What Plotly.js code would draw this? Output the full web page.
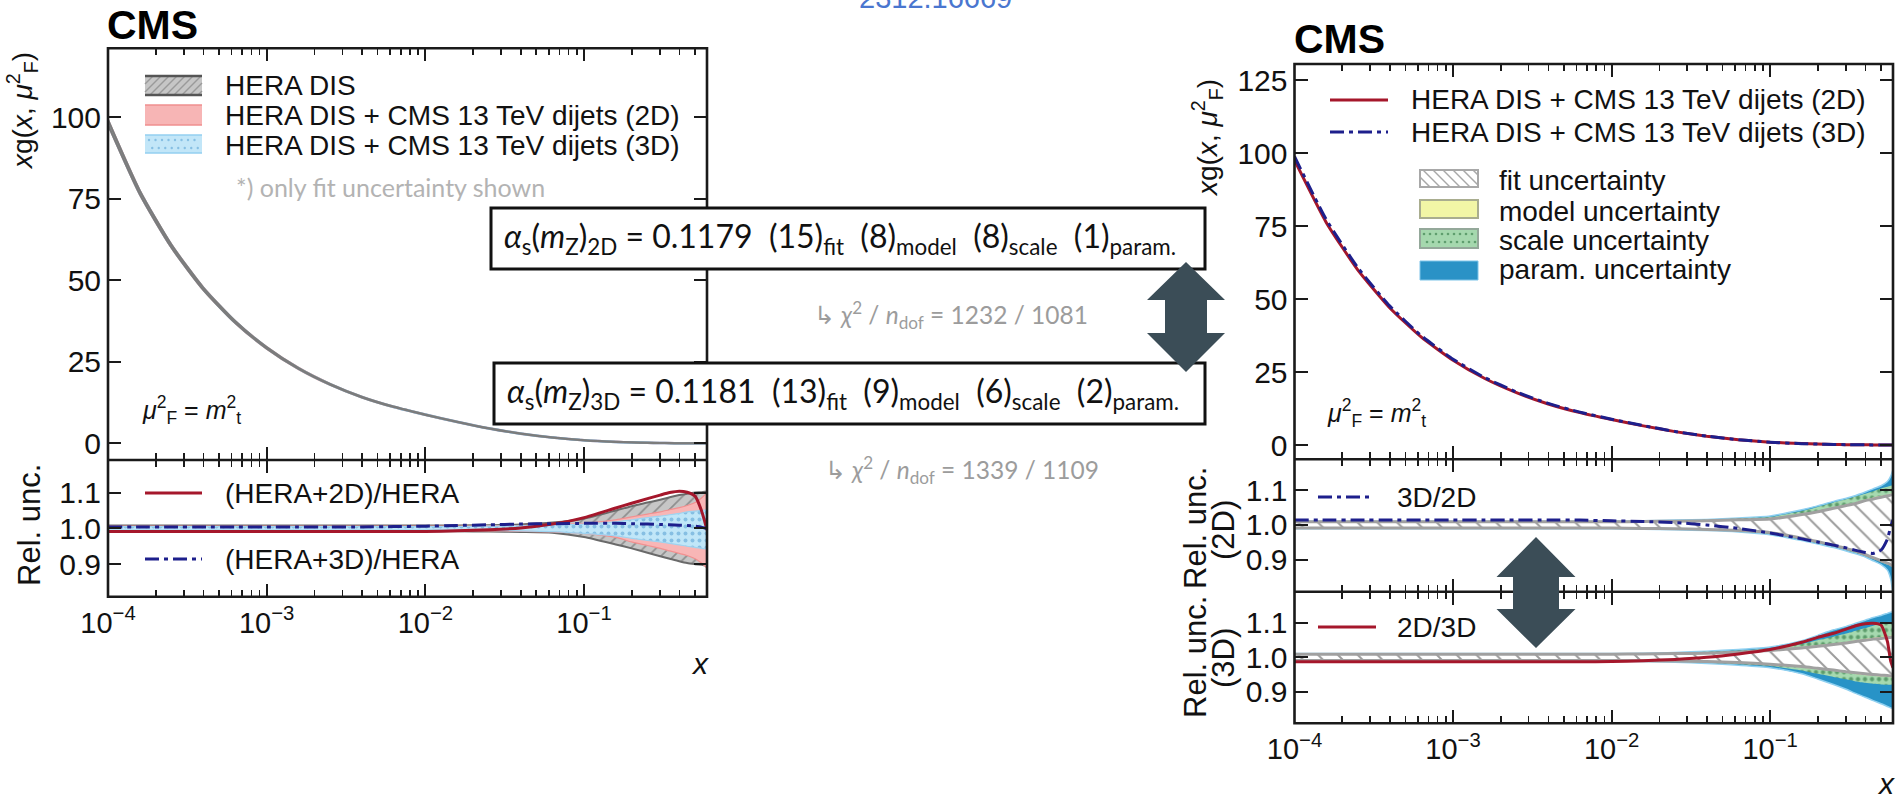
<!DOCTYPE html>
<html><head><meta charset="utf-8">
<script src="https://cdn.plot.ly/plotly-3.0.1.min.js"></script>
<style>html,body{margin:0;padding:0;background:#fff;overflow:hidden}#chart{width:1897px;height:799px}</style>
</head><body><div id="chart"></div>
<script>
// ---------------- data ----------------
const X = [1e-4, 1.585e-4, 2.512e-4, 3.981e-4, 6.31e-4, 1e-3, 1.585e-3, 2.512e-3, 3.981e-3, 6.31e-3,
  0.01, 0.01585, 0.02512, 0.03981, 0.0631, 0.1, 0.1585, 0.1995, 0.2512, 0.302, 0.3467, 0.3981, 0.4467, 0.5012, 0.5495, 0.5754, 0.5957];
// x g(x, muF^2), HERA DIS central
const XG = [98.5, 77, 60.5, 47.5, 37.3, 29.3, 23.0, 18.1, 14.2, 11.2, 8.8, 6.6, 4.6, 3.0, 1.8, 0.95, 0.45, 0.3, 0.18, 0.11, 0.075, 0.05, 0.035, 0.022, 0.015, 0.012, 0.01];
// left ratio panel: fit-uncertainty bands (relative) and ratios
const HERA_HI = [1.008,1.008,1.008,1.008,1.008,1.008,1.008,1.008,1.008,1.008,1.008,1.008,1.009,1.011,1.016,1.027,1.05,1.062,1.072,1.08,1.087,1.093,1.097,1.1,1.101,1.102,1.102];
const HERA_LO = [0.992,0.992,0.992,0.992,0.992,0.992,0.992,0.992,0.992,0.992,0.992,0.992,0.991,0.99,0.988,0.976,0.955,0.944,0.932,0.922,0.915,0.908,0.903,0.9,0.898,0.897,0.897];
const B2D_HI = [1.006,1.006,1.006,1.006,1.006,1.006,1.006,1.006,1.006,1.006,1.006,1.006,1.007,1.008,1.01,1.014,1.024,1.032,1.04,1.046,1.052,1.058,1.064,1.072,1.085,1.093,1.1];
const B2D_LO = [0.994,0.994,0.994,0.994,0.994,0.994,0.994,0.994,0.994,0.994,0.994,0.994,0.993,0.992,0.99,0.986,0.975,0.962,0.952,0.944,0.937,0.93,0.924,0.915,0.903,0.895,0.888];
const B3D_HI = [1.005,1.005,1.005,1.005,1.005,1.005,1.005,1.005,1.005,1.005,1.005,1.005,1.006,1.007,1.009,1.012,1.018,1.024,1.03,1.034,1.038,1.042,1.046,1.048,1.05,1.051,1.052];
const B3D_LO = [0.995,0.995,0.995,0.995,0.995,0.995,0.995,0.995,0.995,0.995,0.995,0.995,0.994,0.993,0.991,0.986,0.979,0.972,0.966,0.962,0.958,0.954,0.95,0.947,0.944,0.943,0.942];
const R_2D_HERA = [0.991,0.991,0.991,0.991,0.991,0.991,0.991,0.991,0.991,0.991,0.991,0.993,0.996,1.001,1.012,1.03,1.057,1.07,1.083,1.093,1.1,1.104,1.101,1.09,1.05,1.02,0.995];
const R_3D_HERA = [1.004,1.004,1.004,1.004,1.004,1.004,1.004,1.004,1.004,1.005,1.006,1.008,1.01,1.012,1.013,1.014,1.014,1.013,1.012,1.011,1.01,1.009,1.008,1.006,1.003,1.001,1.0];
// right, 2D fit: uncertainty components (relative)
const FIT2_HI = [1.009,1.009,1.009,1.009,1.009,1.009,1.009,1.009,1.009,1.009,1.009,1.01,1.011,1.012,1.015,1.017,1.03,1.038,1.048,1.056,1.062,1.07,1.075,1.08,1.084,1.086,1.088];
const FIT2_LO = [0.991,0.991,0.991,0.991,0.991,0.991,0.991,0.991,0.991,0.991,0.991,0.99,0.989,0.987,0.984,0.978,0.962,0.952,0.942,0.932,0.925,0.915,0.906,0.897,0.89,0.886,0.882];
const MOD2_HI = [1.01,1.01,1.01,1.01,1.01,1.01,1.01,1.01,1.01,1.01,1.01,1.011,1.012,1.013,1.016,1.019,1.032,1.04,1.05,1.059,1.065,1.073,1.079,1.084,1.088,1.09,1.092];
const MOD2_LO = [0.99,0.99,0.99,0.99,0.99,0.99,0.99,0.99,0.99,0.99,0.99,0.989,0.988,0.986,0.983,0.977,0.961,0.95,0.94,0.93,0.922,0.913,0.904,0.895,0.888,0.884,0.88];
const SCL2_HI = [1.01,1.01,1.01,1.01,1.01,1.01,1.01,1.01,1.01,1.01,1.01,1.011,1.013,1.015,1.019,1.023,1.04,1.052,1.065,1.074,1.082,1.09,1.097,1.105,1.11,1.113,1.116];
const SCL2_LO = [0.99,0.99,0.99,0.99,0.99,0.99,0.99,0.99,0.99,0.99,0.99,0.989,0.988,0.985,0.982,0.975,0.96,0.948,0.938,0.928,0.92,0.911,0.902,0.893,0.886,0.882,0.878];
const PAR2_HI = [1.011,1.011,1.011,1.011,1.011,1.011,1.011,1.011,1.011,1.011,1.011,1.012,1.014,1.016,1.02,1.026,1.044,1.055,1.068,1.077,1.085,1.095,1.104,1.113,1.125,1.14,1.16];
const PAR2_LO = [0.989,0.989,0.989,0.989,0.989,0.989,0.989,0.989,0.989,0.989,0.989,0.988,0.986,0.984,0.98,0.972,0.955,0.945,0.935,0.925,0.917,0.908,0.897,0.886,0.87,0.845,0.8];
const R_3D_2D = [1.014,1.014,1.014,1.014,1.014,1.014,1.014,1.014,1.014,1.014,1.012,1.01,1.007,1.0,0.99,0.977,0.96,0.951,0.942,0.934,0.927,0.921,0.918,0.928,0.96,0.995,1.015];
// right, 3D fit: uncertainty components (relative)
const FIT3_HI = [1.009,1.009,1.009,1.009,1.009,1.009,1.009,1.009,1.009,1.009,1.009,1.01,1.011,1.012,1.015,1.02,1.027,1.032,1.037,1.042,1.046,1.05,1.053,1.055,1.057,1.058,1.059];
const FIT3_LO = [0.991,0.991,0.991,0.991,0.991,0.991,0.991,0.991,0.991,0.991,0.991,0.99,0.989,0.988,0.985,0.98,0.973,0.968,0.963,0.958,0.955,0.952,0.95,0.948,0.947,0.946,0.945];
const MOD3_HI = [1.01,1.01,1.01,1.01,1.01,1.01,1.01,1.01,1.01,1.01,1.01,1.011,1.012,1.013,1.017,1.022,1.03,1.035,1.04,1.045,1.05,1.054,1.057,1.06,1.062,1.063,1.064];
const MOD3_LO = [0.99,0.99,0.99,0.99,0.99,0.99,0.99,0.99,0.99,0.99,0.99,0.989,0.988,0.987,0.983,0.978,0.97,0.965,0.96,0.955,0.951,0.948,0.946,0.944,0.943,0.942,0.941];
const SCL3_HI = [1.01,1.01,1.01,1.01,1.01,1.01,1.01,1.01,1.01,1.01,1.01,1.011,1.013,1.016,1.02,1.026,1.039,1.05,1.06,1.069,1.077,1.085,1.092,1.097,1.1,1.101,1.102];
const SCL3_LO = [0.99,0.99,0.99,0.99,0.99,0.99,0.99,0.99,0.99,0.99,0.99,0.989,0.987,0.984,0.98,0.975,0.962,0.952,0.943,0.936,0.93,0.926,0.923,0.921,0.92,0.92,0.92];
const PAR3_HI = [1.011,1.011,1.011,1.011,1.011,1.011,1.011,1.011,1.011,1.011,1.011,1.012,1.014,1.018,1.023,1.03,1.048,1.064,1.08,1.09,1.099,1.108,1.116,1.122,1.128,1.131,1.133];
const PAR3_LO = [0.989,0.989,0.989,0.989,0.989,0.989,0.989,0.989,0.989,0.989,0.989,0.988,0.986,0.982,0.977,0.97,0.952,0.937,0.921,0.907,0.895,0.884,0.874,0.865,0.857,0.853,0.85];
const R_2D_3D = [0.987,0.987,0.987,0.987,0.987,0.987,0.987,0.987,0.987,0.987,0.988,0.99,0.994,1.0,1.01,1.023,1.044,1.058,1.07,1.082,1.092,1.098,1.099,1.094,1.046,0.99,0.97];

const X_TICKS = [1e-4, 1e-3, 1e-2, 1e-1];
const X_TICKTEXT = ['10<sup>\u22124</sup>', '10<sup>\u22123</sup>', '10<sup>\u22122</sup>', '10<sup>\u22121</sup>'];
const Y_TICKS_L = [0, 25, 50, 75, 100];
const Y_TICKS_R = [0, 25, 50, 75, 100, 125];
const R_TICKS = [0.9, 1.0, 1.1];
const R_TICKTEXT = ['0.9', '1.0', '1.1'];

// ---------------- helpers ----------------
const W = 1897, H = 799;
const fx = p => p / W, fy = p => 1 - p / H;
const FONT = 'Liberation Sans, Arial, Helvetica, sans-serif';
const SFONT = 'Lato, Open Sans, sans-serif';
const RED = '#a5172b', NAVY = '#1d1f8c', DASHDOT = '14px,5px,4px,5px';
const mul = (a, b) => a.map((v, i) => v * b[i]);

const MINOR = [];
for (let d = -4; d <= -1; d++) for (let k = 2; k <= 9; k++) { const v = k * Math.pow(10, d); if (v < 0.596) MINOR.push(v); }

function band(xa, ya, lo, hi, o) {
  const lo_t = {x: X, y: lo, xaxis: xa, yaxis: ya, mode: 'lines', showlegend: false, hoverinfo: 'skip',
    line: {color: o.edge || 'rgba(0,0,0,0)', width: o.ew || 0, shape: 'spline', smoothing: 0.6}};
  const hi_t = {x: X, y: hi, xaxis: xa, yaxis: ya, mode: 'lines', showlegend: false, hoverinfo: 'skip', fill: 'tonexty',
    line: {color: o.edge || 'rgba(0,0,0,0)', width: o.ew || 0, shape: 'spline', smoothing: 0.6}};
  if (o.pattern) hi_t.fillpattern = o.pattern;
  hi_t.fillcolor = o.fill;
  return [lo_t, hi_t];
}
function line(xa, ya, y, color, dash, w) {
  return {x: X, y: y, xaxis: xa, yaxis: ya, mode: 'lines', showlegend: false, hoverinfo: 'skip',
    line: {color: color, width: w || 3, dash: dash || 'solid', shape: 'spline', smoothing: 0.5}};
}

const traces = [];
// upper left
traces.push(...band('x2', 'y', mul(XG, B2D_LO), mul(XG, B2D_HI), {fill: '#f5a5a5', edge: '#f09a9a', ew: 2.5}));
traces.push(...band('x2', 'y', mul(XG, B3D_LO), mul(XG, B3D_HI), {fill: '#a5d8f3', edge: '#9ad2f0', ew: 2.5}));
traces.push(...band('x2', 'y', mul(XG, HERA_LO), mul(XG, HERA_HI), {fill: 'rgba(150,150,150,0.8)', edge: '#7c7c7c', ew: 2}));
// lower left
traces.push(...band('x', 'y2', HERA_LO, HERA_HI, {fill: '#c4c4c4', edge: '#6a6a6a', ew: 2,
  pattern: {shape: '/', bgcolor: '#c6c6c6', fgcolor: '#8e8e8e', size: 9, solidity: 0.18}}));
traces.push(...band('x', 'y2', B2D_LO, B2D_HI, {fill: '#f8b6b6', edge: '#f29090', ew: 1.2}));
traces.push(...band('x', 'y2', B3D_LO, B3D_HI, {fill: '#c0e6f8', edge: '#9ed3f0', ew: 1.2,
  pattern: {shape: '.', bgcolor: '#c0e6f8', fgcolor: '#86bfe3', size: 7, solidity: 0.25}}));
traces.push(line('x', 'y2', R_2D_HERA, RED, 'solid', 3));
traces.push(line('x', 'y2', R_3D_HERA, NAVY, DASHDOT, 3));
// upper right
traces.push(line('x4', 'y3', mul(XG, R_2D_HERA), RED, 'solid', 3));
traces.push(line('x4', 'y3', mul(XG, R_3D_HERA), NAVY, DASHDOT, 3));
// middle / bottom right
const bandsR = (xa, ya, P, S, M, F) => {
  traces.push(...band(xa, ya, P[0], P[1], {fill: '#2893c7', edge: '#8fd0f0', ew: 1.5}));
  traces.push(...band(xa, ya, S[0], S[1], {fill: '#a6d9af', pattern: {shape: '.', bgcolor: '#a6d9af', fgcolor: '#5d9d6c', size: 7, solidity: 0.3}}));
  traces.push(...band(xa, ya, M[0], M[1], {fill: '#eff5a2'}));
  traces.push(...band(xa, ya, F[0], F[1], {fill: '#ffffff', edge: '#a0a0a0', ew: 3,
    pattern: {shape: '\\', bgcolor: '#ffffff', fgcolor: '#9c9c9c', size: 14, solidity: 0.14}}));
};
bandsR('x5', 'y4', [PAR2_LO, PAR2_HI], [SCL2_LO, SCL2_HI], [MOD2_LO, MOD2_HI], [FIT2_LO, FIT2_HI]);
traces.push(line('x5', 'y4', R_3D_2D, NAVY, DASHDOT, 3));
bandsR('x3', 'y5', [PAR3_LO, PAR3_HI], [SCL3_LO, SCL3_HI], [MOD3_LO, MOD3_HI], [FIT3_LO, FIT3_HI]);
traces.push(line('x3', 'y5', R_2D_3D, RED, 'solid', 3));

// ---------------- axes (frames are drawn as shapes on top) ----------------
const base = {showline: true, linecolor: '#1a1a1a', linewidth: 1, mirror: 'ticks', ticks: 'inside', ticklen: 13, tickwidth: 2,
  tickcolor: '#1a1a1a', showgrid: false, zeroline: false, fixedrange: true, tickfont: {family: FONT, size: 30, color: '#111'}};
const xBase = (dom, anchor, labels) => Object.assign({}, base, {type: 'log', domain: dom, range: [-4, -0.225], anchor: anchor,
  tickmode: 'array', tickvals: X_TICKS, ticktext: X_TICKTEXT, showticklabels: labels, tickfont: {family: FONT, size: 29, color: '#111'},
  minor: {tickmode: 'array', tickvals: MINOR, ticks: 'inside', ticklen: 7, tickwidth: 1.6, tickcolor: '#1a1a1a'}});
const yR = (dom, anchor, rng) => Object.assign({}, base, {domain: dom, anchor: anchor, range: rng, tickmode: 'array', tickvals: R_TICKS, ticktext: R_TICKTEXT});
const LX0 = 108, LX1 = 707, RX0 = 1294.5, RX1 = 1893;
const LD = [fx(LX0), fx(LX1)], RD = [fx(RX0), fx(RX1)];

const layout = {
  width: W, height: H, margin: {l: 0, r: 0, t: 0, b: 0}, paper_bgcolor: '#fff', plot_bgcolor: 'rgba(0,0,0,0)', showlegend: false,
  xaxis: xBase(LD, 'y2', true),
  xaxis2: xBase(LD, 'y', false),
  xaxis3: xBase(RD, 'y5', true),
  xaxis4: xBase(RD, 'y3', false),
  xaxis5: xBase(RD, 'y4', false),
  yaxis: Object.assign({}, base, {domain: [fy(460), fy(48.3)], anchor: 'x2', range: [-5.1, 121.2], tickmode: 'array', tickvals: Y_TICKS_L}),
  yaxis2: yR([fy(596.7), fy(460)], 'x', [0.809, 1.191]),
  yaxis3: Object.assign({}, base, {domain: [fy(459.3), fy(64)], anchor: 'x4', range: [-4.9, 130.6], tickmode: 'array', tickvals: Y_TICKS_R}),
  yaxis4: yR([fy(591.7), fy(459.3)], 'x5', [0.808, 1.189]),
  yaxis5: yR([fy(723.3), fy(591.7)], 'x3', [0.808, 1.191]),
  shapes: [], annotations: []
};

// ---------------- decorations ----------------
const S = layout.shapes, A = layout.annotations;
const rect = (x0, y0, x1, y1, fill, lc, lw) => S.push({type: 'rect', xref: 'paper', yref: 'paper', layer: 'above',
  x0: fx(x0), x1: fx(x1), y0: fy(y0), y1: fy(y1), fillcolor: fill, line: {color: lc || 'rgba(0,0,0,0)', width: lw || 0}});
const seg = (x0, y0, x1, y1, color, w, dash) => S.push({type: 'line', xref: 'paper', yref: 'paper', layer: 'above',
  x0: fx(x0), x1: fx(x1), y0: fy(y0), y1: fy(y1), line: {color: color, width: w, dash: dash || 'solid'}});
function hatch(x0, x1, y0, y1, step, dir, color, w) {
  const h = y1 - y0;
  for (let k = x0 - h; k < x1; k += step) {
    let xa = k, xb = k + h, ya, yb;
    if (dir === '/') { ya = y1; yb = y0; } else { ya = y0; yb = y1; }
    if (xa < x0) { const d = x0 - xa; xa = x0; ya = dir === '/' ? ya - d : ya + d; }
    if (xb > x1) { const d = xb - x1; xb = x1; yb = dir === '/' ? yb + d : yb - d; }
    if (xb - xa < 1) continue;
    seg(xa, ya, xb, yb, color, w);
  }
}
function dots(x0, x1, ys, step, color, r) {
  ys.forEach((y, j) => { for (let x = x0 + (j % 2 ? step / 2 : 0); x <= x1; x += step)
    S.push({type: 'circle', xref: 'paper', yref: 'paper', layer: 'above', x0: fx(x - r), x1: fx(x + r), y0: fy(y + r), y1: fy(y - r),
      fillcolor: color, line: {width: 0}}); });
}
function ann(text, px, py, o) {
  A.push(Object.assign({text: text, xref: 'paper', yref: 'paper', x: fx(px), y: fy(py), showarrow: false,
    xanchor: 'left', yanchor: 'middle', font: {family: FONT, size: 28, color: '#111'}}, o || {}));
}

// panel frames
const FR = '#1a1a1a', FW = 2.6;
rect(LX0, 48.3, LX1, 596.7, 'rgba(0,0,0,0)', FR, FW); seg(LX0, 460, LX1, 460, FR, FW);
rect(RX0, 64, RX1, 723.3, 'rgba(0,0,0,0)', FR, FW); seg(RX0, 459.3, RX1, 459.3, FR, FW); seg(RX0, 591.7, RX1, 591.7, FR, FW);

// left legend swatches
rect(145, 76, 202, 95, '#c6c6c6'); hatch(145, 202, 76, 95, 8, '/', '#9a9a9a', 1.5);
seg(145, 76, 202, 76, '#555', 2.5); seg(145, 95, 202, 95, '#555', 2.5);
rect(145, 105, 202, 125, '#f7b5b5'); seg(145, 105, 202, 105, '#ef8f8f', 1.5); seg(145, 125, 202, 125, '#ef8f8f', 1.5);
rect(145, 135, 202, 153, '#c2e6f8'); dots(149, 200, [140, 148], 6.5, '#86bfe3', 1.2);
seg(145, 135, 202, 135, '#93cff0', 1.5); seg(145, 153, 202, 153, '#93cff0', 1.5);
ann('HERA DIS', 223, 86); ann('HERA DIS + CMS 13 TeV dijets (2D)', 223, 115); ann('HERA DIS + CMS 13 TeV dijets (3D)', 223, 145);
ann('*) only fit uncertainty shown', 234, 187, {font: {family: SFONT, size: 25, color: '#b3b3b3'}});
// left ratio legend
seg(145, 493, 202, 493, RED, 3); ann('(HERA+2D)/HERA', 223, 493);
seg(145, 559, 202, 559, NAVY, 3, DASHDOT); ann('(HERA+3D)/HERA', 223, 559);
// right legends
seg(1330, 100, 1388, 100, RED, 3); ann('HERA DIS + CMS 13 TeV dijets (2D)', 1409, 100);
seg(1330, 132, 1388, 132, NAVY, 3, DASHDOT); ann('HERA DIS + CMS 13 TeV dijets (3D)', 1409, 132);
rect(1420, 170, 1478, 187, '#ffffff', '#a8a8a8', 2); hatch(1420, 1478, 170, 187, 10, '\\', '#a8a8a8', 1.5);
rect(1420, 200, 1478, 218, '#f2f6a6', '#a9ad8f', 2);
rect(1420, 229, 1478, 248, '#a5d8ae', '#94a89a', 2); dots(1424, 1475, [234, 242], 6, '#5f9e6e', 1.3);
rect(1420, 261, 1478, 280, '#2a92c6', '#7cc3e8', 1);
ann('fit uncertainty', 1497, 180); ann('model uncertainty', 1497, 211); ann('scale uncertainty', 1497, 240); ann('param. uncertainty', 1497, 269);
seg(1318, 497, 1374, 497, NAVY, 3, DASHDOT); ann('3D/2D', 1395, 497);
seg(1318, 627, 1376, 627, RED, 3); ann('2D/3D', 1395, 627);

// CMS labels, axis titles
ann('<b>CMS</b>', 105, 25, {font: {family: FONT, size: 41, color: '#000'}});
ann('<b>CMS</b>', 1292, 39, {font: {family: FONT, size: 41, color: '#000'}});
const ytitle = '<i>x</i>g(<i>x</i>, <i>\u03bc</i><sup>2</sup><sub>F</sub>)';
ann(ytitle, 22, 50, {textangle: -90, xanchor: 'center', yanchor: 'top', font: {family: FONT, size: 28, color: '#111'}});
ann(ytitle, 1207, 77, {textangle: -90, xanchor: 'center', yanchor: 'top', font: {family: FONT, size: 28, color: '#111'}});
ann('Rel. unc.', 29, 525, {textangle: -90, xanchor: 'center', font: {family: FONT, size: 31, color: '#111'}});
ann('Rel. unc.', 1195, 528, {textangle: -90, xanchor: 'center', font: {family: FONT, size: 31, color: '#111'}});
ann('(2D)', 1223, 530, {textangle: -90, xanchor: 'center', font: {family: FONT, size: 31, color: '#111'}});
ann('Rel. unc.', 1195, 657, {textangle: -90, xanchor: 'center', font: {family: FONT, size: 31, color: '#111'}});
ann('(3D)', 1223, 658, {textangle: -90, xanchor: 'center', font: {family: FONT, size: 31, color: '#111'}});
ann('<i>x</i>', 700, 663, {xanchor: 'center', font: {family: FONT, size: 30, color: '#111'}});
ann('<i>x</i>', 1886, 783, {xanchor: 'center', font: {family: FONT, size: 30, color: '#111'}});
const mu = '<i>\u03bc</i><sup>2</sup><sub>F</sub> = <i>m</i><sup>2</sup><sub>t</sub>';
ann(mu, 140, 410, {font: {family: FONT, size: 25, color: '#111'}});
ann(mu, 1325, 413, {font: {family: FONT, size: 25, color: '#111'}});

// alpha_s boxes
rect(491, 208, 1205, 269, '#ffffff', '#111', 3);
rect(494, 363, 1205, 424, '#ffffff', '#111', 3);
const sp = '\u00a0\u00a0';
ann('<i>\u03b1</i><sub>s</sub>(<i>m</i><sub>Z</sub>)<sub>2D</sub> = 0.1179' + sp + '(15)<sub>fit</sub>' + sp + '(8)<sub>model</sub>' + sp + '(8)<sub>scale</sub>' + sp + '(1)<sub>param.</sub>',
  840, 238, {xanchor: 'center', font: {family: SFONT, size: 32, color: '#111'}});
ann('<i>\u03b1</i><sub>s</sub>(<i>m</i><sub>Z</sub>)<sub>3D</sub> = 0.1181' + sp + '(13)<sub>fit</sub>' + sp + '(9)<sub>model</sub>' + sp + '(6)<sub>scale</sub>' + sp + '(2)<sub>param.</sub>',
  843, 393, {xanchor: 'center', font: {family: SFONT, size: 32, color: '#111'}});
ann('\u21b3 <i>\u03c7</i><sup>2</sup> / <i>n</i><sub>dof</sub> = 1232 / 1081', 951, 315, {xanchor: 'center', font: {family: SFONT, size: 24.5, color: '#9c9c9c'}});
ann('\u21b3 <i>\u03c7</i><sup>2</sup> / <i>n</i><sub>dof</sub> = 1339 / 1109', 962, 470, {xanchor: 'center', font: {family: SFONT, size: 24.5, color: '#9c9c9c'}});
ann('2312.16669', 935, -2, {xanchor: 'center', font: {family: FONT, size: 29, color: '#4a76cf'}});

// double arrows
function arrow(cx, yt, yh1, yh2, yb, hw, sw) {
  const p = [[cx, yt], [cx + hw, yh1], [cx + sw, yh1], [cx + sw, yh2], [cx + hw, yh2], [cx, yb], [cx - hw, yh2], [cx - sw, yh2], [cx - sw, yh1], [cx - hw, yh1]];
  S.push({type: 'path', xref: 'paper', yref: 'paper', layer: 'above', fillcolor: '#3b4d57', line: {width: 0},
    path: 'M' + p.map(q => fx(q[0]) + ',' + fy(q[1])).join('L') + 'Z'});
}
arrow(1186, 262, 300, 333, 372, 39, 21);
arrow(1536, 537, 577, 609, 648, 39.5, 23);

Plotly.newPlot('chart', traces, layout, {staticPlot: true});
</script></body></html>
